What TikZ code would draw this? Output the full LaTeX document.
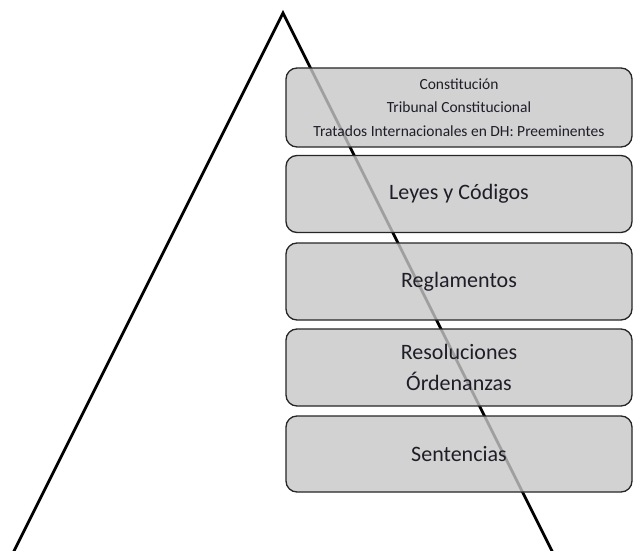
\documentclass[tikz,border=0pt]{standalone}
\usepackage{fontspec}
\setmainfont{Carlito}
\begin{document}
\begin{tikzpicture}[x=1pt,y=-1pt,
  box/.style={draw=black!85, line width=1.3pt, rounded corners=11pt,
    fill={rgb,255:red,199;green,199;blue,199}, fill opacity=0.8, text opacity=1,
    minimum width=346pt, inner sep=0pt, align=center, text={rgb,255:red,30;green,30;blue,40}},
  side/.style={line width=2.8pt, line cap=round}]
\useasboundingbox (0,0) rectangle (633,551);
\fill[white] (0,0) rectangle (633,551);
\coordinate (apex) at (283,13);
\coordinate (lft) at (12,555);
\coordinate (rgt) at (554,555);
\draw[side] (lft) -- (apex) -- (rgt);
\node[box, minimum height=79pt, font=\fontsize{15.5}{23.5}\selectfont] (b1) at (459,107.5)
  {Constitución\\Tribunal Constitucional\\Tratados Internacionales en DH: Preeminentes};
\node[box, minimum height=77pt, font=\fontsize{22}{31}\selectfont] (b2) at (459,194) {Leyes y Códigos};
\node[box, minimum height=77pt, font=\fontsize{22}{31}\selectfont] (b3) at (459,281.5) {Reglamentos};
\node[box, minimum height=77pt, font=\fontsize{22}{31}\selectfont] (b4) at (459,367.5) {Resoluciones\\Órdenanzas};
\node[box, minimum height=76pt, font=\fontsize{22}{31}\selectfont] (b5) at (459,454) {Sentencias};
\end{tikzpicture}
\end{document}
